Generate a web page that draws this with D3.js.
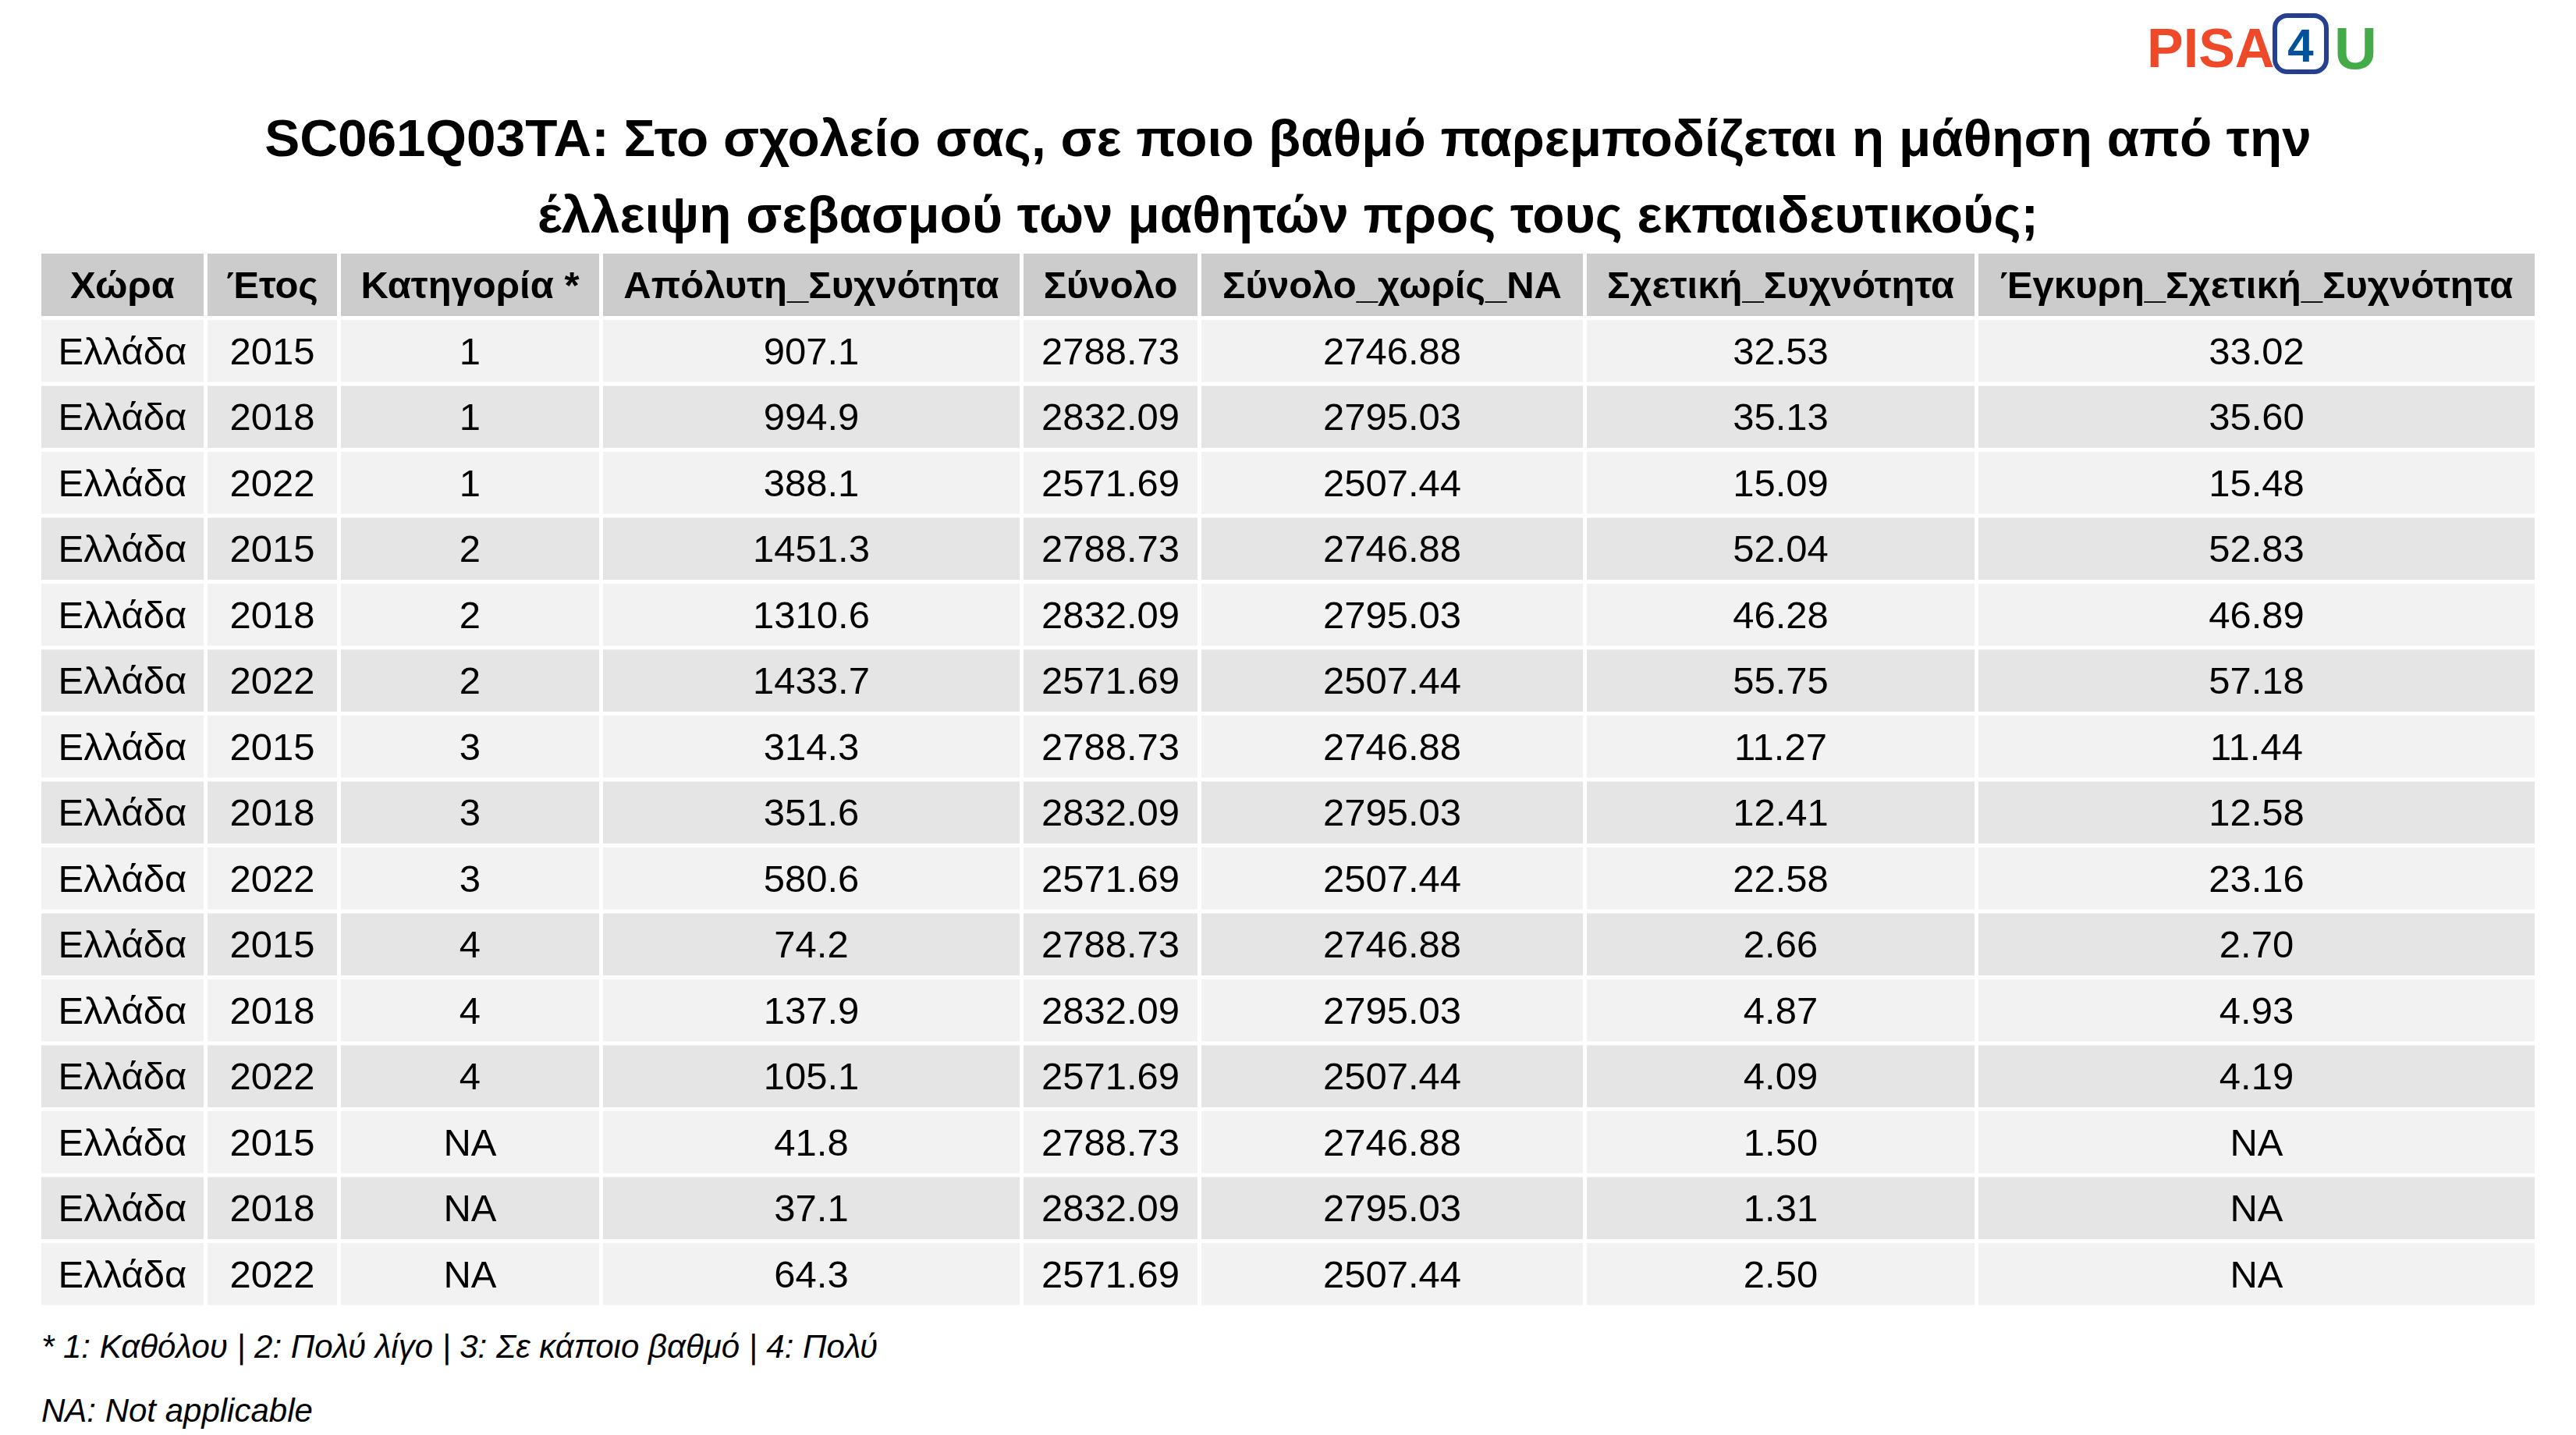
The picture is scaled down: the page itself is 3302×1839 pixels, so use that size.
<!DOCTYPE html>
<html><head><meta charset="utf-8">
<script src="https://cdn.jsdelivr.net/npm/d3@7"></script>
<style>body{margin:0;background:#fff}</style>
</head><body>
<svg id="chart" width="3302" height="1839"></svg>
<script>
const titleLines = ['SC061Q03TA: Στο σχολείο σας, σε ποιο βαθμό παρεμποδίζεται η μάθηση από την', 'έλλειψη σεβασμού των μαθητών προς τους εκπαιδευτικούς;'];
const headers = ['Χώρα', 'Έτος', 'Κατηγορία *', 'Απόλυτη_Συχνότητα', 'Σύνολο', 'Σύνολο_χωρίς_NA', 'Σχετική_Συχνότητα', 'Έγκυρη_Σχετική_Συχνότητα'];
const years = ['2015', '2018', '2022', '2015', '2018', '2022', '2015', '2018', '2022', '2015', '2018', '2022', '2015', '2018', '2022'];
const categories = ['1', '1', '1', '2', '2', '2', '3', '3', '3', '4', '4', '4', 'NA', 'NA', 'NA'];
const absFreq = ['907.1', '994.9', '388.1', '1451.3', '1310.6', '1433.7', '314.3', '351.6', '580.6', '74.2', '137.9', '105.1', '41.8', '37.1', '64.3'];
const totals = {'2015': '2788.73', '2018': '2832.09', '2022': '2571.69'};
const totalsNoNA = {'2015': '2746.88', '2018': '2795.03', '2022': '2507.44'};
const relFreq = ['32.53', '35.13', '15.09', '52.04', '46.28', '55.75', '11.27', '12.41', '22.58', '2.66', '4.87', '4.09', '1.50', '1.31', '2.50'];
const validRelFreq = ['33.02', '35.60', '15.48', '52.83', '46.89', '57.18', '11.44', '12.58', '23.16', '2.70', '4.93', '4.19', 'NA', 'NA', 'NA'];
const colEdges = [53, 266, 437, 773, 1312, 1540, 2034, 2536, 3254];
const footnotes = ['* 1: Καθόλου | 2: Πολύ λίγο | 3: Σε κάποιο βαθμό | 4: Πολύ', 'NA: Not applicable'];

const rows = years.map((y, i) => ['Ελλάδα', y, categories[i], absFreq[i], totals[y], totalsNoNA[y], relFreq[i], validRelFreq[i]]);

const svg = d3.select('#chart');
const font = '"Liberation Sans", Arial, sans-serif';
const gap = 5;
const headTop = 325, headH = 80, rowH = 84.5;

// logo
const logo = svg.append('g').attr('font-family', font).attr('font-weight', 'bold');
logo.append('text').attr('x', 2752).attr('y', 86).attr('font-size', 70).attr('fill', '#ee4a2a').text('PISA');
logo.append('rect').attr('x', 2916).attr('y', 20).attr('width', 66).attr('height', 72).attr('rx', 16)
  .attr('fill', 'none').attr('stroke', '#25408f').attr('stroke-width', 6);
logo.append('text').attr('x', 2949).attr('y', 79).attr('text-anchor', 'middle').attr('font-size', 60).attr('fill', '#00529b').text('4');
logo.append('text').attr('x', 2992).attr('y', 88).attr('font-size', 76).attr('fill', '#43ac48').text('U');

svg.append('g').selectAll('text').data(titleLines).join('text')
  .attr('x', 1651).attr('y', (d, i) => 200 + i * 98)
  .attr('text-anchor', 'middle').attr('font-family', font).attr('font-weight', 'bold')
  .attr('font-size', 67.5).attr('fill', '#000').text(d => d);

const x = d3.scaleOrdinal().domain(d3.range(8)).range(colEdges.slice(0, 8));
const yRow = d3.scaleLinear().domain([0, rows.length]).range([headTop + headH + gap, headTop + headH + gap + rows.length * rowH]);

// header
const head = svg.append('g');
headers.forEach((h, j) => {
  const x0 = colEdges[j], x1 = colEdges[j + 1];
  head.append('rect').attr('x', x0).attr('y', headTop).attr('width', x1 - x0 - gap).attr('height', headH).attr('fill', '#cccccc');
  head.append('text').attr('x', (x0 + x1 - gap) / 2).attr('y', headTop + headH / 2 + 17)
    .attr('text-anchor', 'middle').attr('font-family', font).attr('font-weight', 'bold').attr('font-size', 49).text(h);
});

// body
const body = svg.append('g');
rows.forEach((r, i) => {
  r.forEach((v, j) => {
    const x0 = x(j), x1 = colEdges[j + 1];
    body.append('rect').attr('x', x0).attr('y', yRow(i)).attr('width', x1 - x0 - gap).attr('height', rowH - gap)
      .attr('fill', i % 2 === 0 ? '#f2f2f2' : '#e5e5e5');
    body.append('text').attr('x', (x0 + x1 - gap) / 2).attr('y', yRow(i) + (rowH - gap) / 2 + 17)
      .attr('text-anchor', 'middle').attr('font-family', font).attr('font-size', 49).text(v);
  });
});

svg.append('g').selectAll('text').data(footnotes).join('text')
  .attr('x', 53).attr('y', (d, i) => 1740 + i * 82)
  .attr('font-family', font).attr('font-style', 'italic').attr('font-size', 42).text(d => d);
</script>
</body></html>
